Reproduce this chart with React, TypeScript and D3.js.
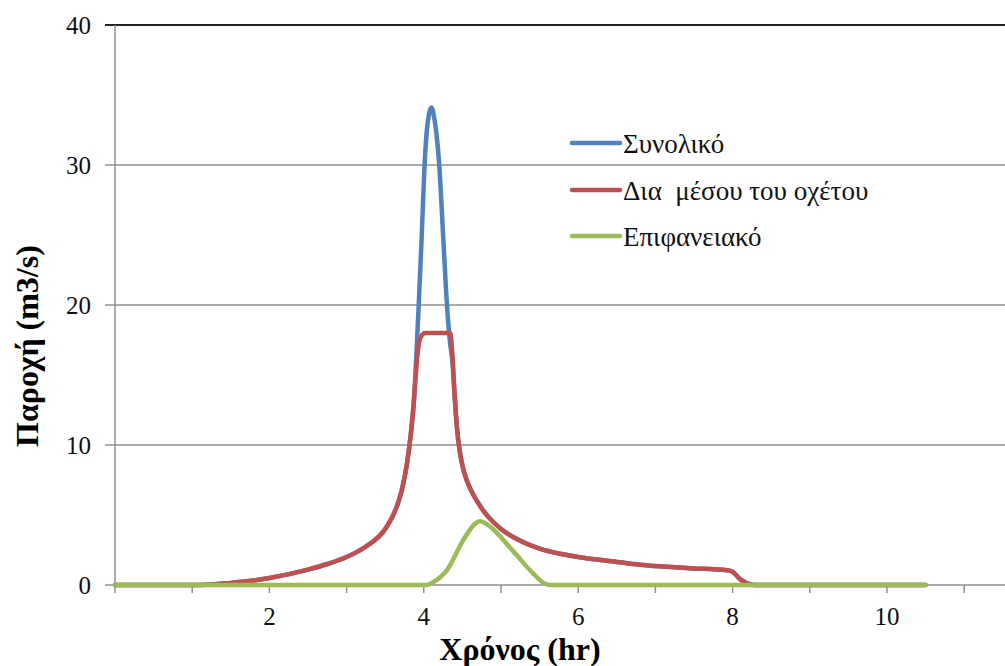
import React from "react";
import * as d3 from "d3";

const totalT = [0, 1.1, 1.5, 1.84, 2.0, 2.5, 2.75, 3.0, 3.25, 3.5, 3.65, 3.72, 3.78, 3.83, 3.87, 3.9, 3.93, 3.97, 4.01, 4.05, 4.1, 4.14, 4.2, 4.25, 4.3, 4.34, 4.37, 4.4, 4.43, 4.47, 4.52, 4.6, 4.7, 4.8, 4.9, 5.0, 5.2, 5.5, 5.8, 6.0, 6.5, 6.8, 7.1, 7.45, 7.93, 8.0, 8.1, 8.2, 8.3, 10.5];
const totalV = [0, 0, 0.15, 0.36, 0.5, 1.1, 1.5, 2.0, 2.75, 4.0, 5.6, 6.9, 8.6, 10.7, 13.0, 16.0, 19.5, 24.5, 30, 33, 34.1, 33.2, 30, 25, 20, 17.3, 16.0, 13.5, 11.2, 9.4, 8.1, 6.9, 5.9, 5.1, 4.5, 4.0, 3.3, 2.6, 2.2, 2.0, 1.65, 1.45, 1.32, 1.2, 1.05, 0.95, 0.4, 0.1, 0, 0];

const culvertT = [0, 1.1, 1.5, 1.84, 2.0, 2.5, 2.75, 3.0, 3.25, 3.5, 3.65, 3.72, 3.78, 3.83, 3.87, 3.9, 3.93, 3.97, 4.02, 4.34, 4.37, 4.4, 4.43, 4.47, 4.52, 4.6, 4.7, 4.8, 4.9, 5.0, 5.2, 5.5, 5.8, 6.0, 6.5, 6.8, 7.1, 7.45, 7.93, 8.0, 8.1, 8.2, 8.3, 10.5];
const culvertV = [0, 0, 0.15, 0.36, 0.5, 1.1, 1.5, 2.0, 2.75, 4.0, 5.6, 6.9, 8.6, 10.7, 13.0, 15.3, 17.0, 17.8, 18, 18, 16.5, 13.5, 11.2, 9.4, 8.1, 6.9, 5.9, 5.1, 4.5, 4.0, 3.3, 2.6, 2.2, 2.0, 1.65, 1.45, 1.32, 1.2, 1.05, 0.95, 0.4, 0.1, 0, 0];

const surfaceT = [0, 4.04, 4.12, 4.3, 4.51, 4.68, 4.73, 4.8, 5.16, 5.41, 5.55, 5.63, 10.5];
const surfaceV = [0, 0, 0.2, 1.07, 3.2, 4.45, 4.55, 4.4, 2.4, 0.86, 0.15, 0, 0];

const seriesNames = ["Συνολικό", "Δια  μέσου του οχέτου", "Επιφανειακό"];
const seriesColors = ["#4F81BD", "#C0504D", "#9BBB59"];
const xTicks = [0, 1, 2, 3, 4, 5, 6, 7, 8, 9, 10, 11];
const xLabels = [2, 4, 6, 8, 10];
const yTicks = [0, 10, 20, 30, 40];

export default function App() {
  const W = 1005, H = 666;
  const left = 115, top = 25, bottom = 585;
  const pxPerHr = 77.2;
  const x = d3.scaleLinear().domain([0, (W - left) / pxPerHr]).range([left, W]);
  const y = d3.scaleLinear().domain([0, 40]).range([bottom, top]);
  const line = d3
    .line<[number, number]>()
    .x((d) => x(d[0]))
    .y((d) => y(d[1]))
    .curve(d3.curveMonotoneX);
  const series = [
    totalT.map((t, i) => [t, totalV[i]] as [number, number]),
    culvertT.map((t, i) => [t, culvertV[i]] as [number, number]),
    surfaceT.map((t, i) => [t, surfaceV[i]] as [number, number]),
  ];
  const font = "'Liberation Serif', 'Times New Roman', serif";
  const legendY = [143, 190, 236];
  return (
    <div style={{ position: "absolute", left: 0, top: 0 }}>
      <svg width={W} height={H} style={{ display: "block", background: "#fff" }}>
        {yTicks.map((v) => (
          <line
            key={"g" + v}
            x1={left - 10}
            x2={W}
            y1={y(v)}
            y2={y(v)}
            stroke={v === 40 ? "#222" : "#8f8f8f"}
            strokeWidth={v === 40 ? 2 : 1.5}
          />
        ))}
        <line x1={left} x2={left} y1={top} y2={bottom} stroke="#8f8f8f" strokeWidth={1.5} />
        {xTicks.map((t) => (
          <line key={"xt" + t} x1={x(t)} x2={x(t)} y1={bottom} y2={bottom + 8} stroke="#8f8f8f" strokeWidth={1.5} />
        ))}
        {yTicks.map((v) => (
          <text
            key={"yl" + v}
            x={91}
            y={y(v)}
            dy="0.35em"
            textAnchor="end"
            fontFamily={font}
            fontSize={25}
            fill="#111"
          >
            {v}
          </text>
        ))}
        {xLabels.map((t) => (
          <text key={"xl" + t} x={x(t)} y={625} textAnchor="middle" fontFamily={font} fontSize={25} fill="#111">
            {t}
          </text>
        ))}
        {series.map((s, i) => (
          <path
            key={"s" + i}
            d={line(s) || ""}
            fill="none"
            stroke={seriesColors[i]}
            strokeWidth={4.5}
            strokeLinejoin="round"
            strokeLinecap="round"
          />
        ))}
        {seriesNames.map((n, i) => (
          <g key={"lg" + i}>
            <line x1={572} x2={620} y1={legendY[i]} y2={legendY[i]} stroke={seriesColors[i]} strokeWidth={4.5} strokeLinecap="round" />
            <text x={623} y={legendY[i] + 10} fontFamily={font} fontSize={27} fill="#111" style={{ whiteSpace: "pre" }}>
              {n}
            </text>
          </g>
        ))}
        <text x={520} y={660} textAnchor="middle" fontFamily={font} fontSize={32} fontWeight="bold" fill="#000">
          Χρόνος (hr)
        </text>
        <text
          transform={`translate(38, 346) rotate(-90)`}
          textAnchor="middle"
          fontFamily={font}
          fontSize={32}
          fontWeight="bold"
          fill="#000"
        >
          Παροχή (m3/s)
        </text>
      </svg>
    </div>
  );
}
